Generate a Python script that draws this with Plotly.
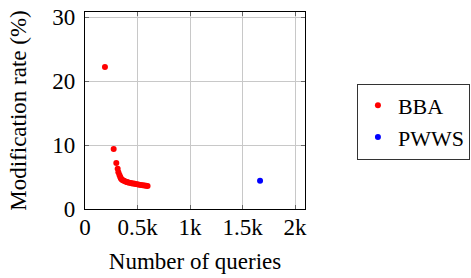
import plotly.graph_objects as go

bba_queries = [190, 273, 298, 311, 318, 328, 336, 342, 350, 360, 371, 385, 398, 406, 420, 437, 450, 466, 480, 499, 515, 532, 550, 566, 582, 596]
bba_rate = [22.2, 9.4, 7.2, 6.3, 5.75, 5.3, 5.0, 4.75, 4.6, 4.5, 4.4, 4.3, 4.22, 4.18, 4.1, 4.05, 4.0, 3.97, 3.92, 3.86, 3.8, 3.75, 3.7, 3.67, 3.63, 3.6]
pwws_queries = [1667]
pwws_rate = [4.43]

x_tickvals = [0, 500, 1000, 1500, 2000]
x_ticktext = ["0", "0.5k", "1k", "1.5k", "2k"]
y_tickvals = [0, 10, 20, 30]

series_names = ["BBA", "PWWS"]
series_colors = ["#ff0000", "#0000ff"]

FONT = "Liberation Serif"
FS = 23

fig = go.Figure()
fig.add_trace(go.Scatter(x=bba_queries, y=bba_rate, mode="markers", name=series_names[0],
                         marker=dict(color=series_colors[0], size=6, line=dict(width=0))))
fig.add_trace(go.Scatter(x=pwws_queries, y=pwws_rate, mode="markers", name=series_names[1],
                         marker=dict(color=series_colors[1], size=6, line=dict(width=0))))

axis_common = dict(showgrid=True, gridcolor="#c8c8c8", gridwidth=1, automargin=False,
                   showline=True, linecolor="black", linewidth=1.3, mirror="allticks",
                   ticks="inside", ticklen=4, tickcolor="#666666", zeroline=False,
                   ticklabeloverflow="allow",
                   tickfont=dict(family=FONT, size=FS, color="black"))

fig.update_xaxes(range=[0, 2095], tickvals=x_tickvals, ticktext=x_ticktext,
                 title=dict(text="Number of queries", font=dict(family=FONT, size=FS, color="black"), standoff=14),
                 ticklabelstandoff=-3, **axis_common)
fig.update_yaxes(range=[0, 30.8], tickvals=y_tickvals,
                 title=dict(text="Modification rate (%)", font=dict(family=FONT, size=FS, color="black"), standoff=19),
                 ticklabelstandoff=4, **axis_common)

fig.update_layout(width=471, height=278,
                  margin=dict(l=85, r=166, t=12, b=69, autoexpand=False),
                  plot_bgcolor="white", paper_bgcolor="white",
                  font=dict(family=FONT, size=FS, color="black"),
                  showlegend=True,
                  legend=dict(x=1.236, y=0.444, xanchor="left", yanchor="middle",
                              bordercolor="#333333", borderwidth=1, bgcolor="white",
                              font=dict(family=FONT, size=22, color="black"),
                              itemwidth=30, tracegroupgap=0))

fig.write_html("out.html", config={"displayModeBar": False},
               post_script="document.body.style.margin='0px';")
